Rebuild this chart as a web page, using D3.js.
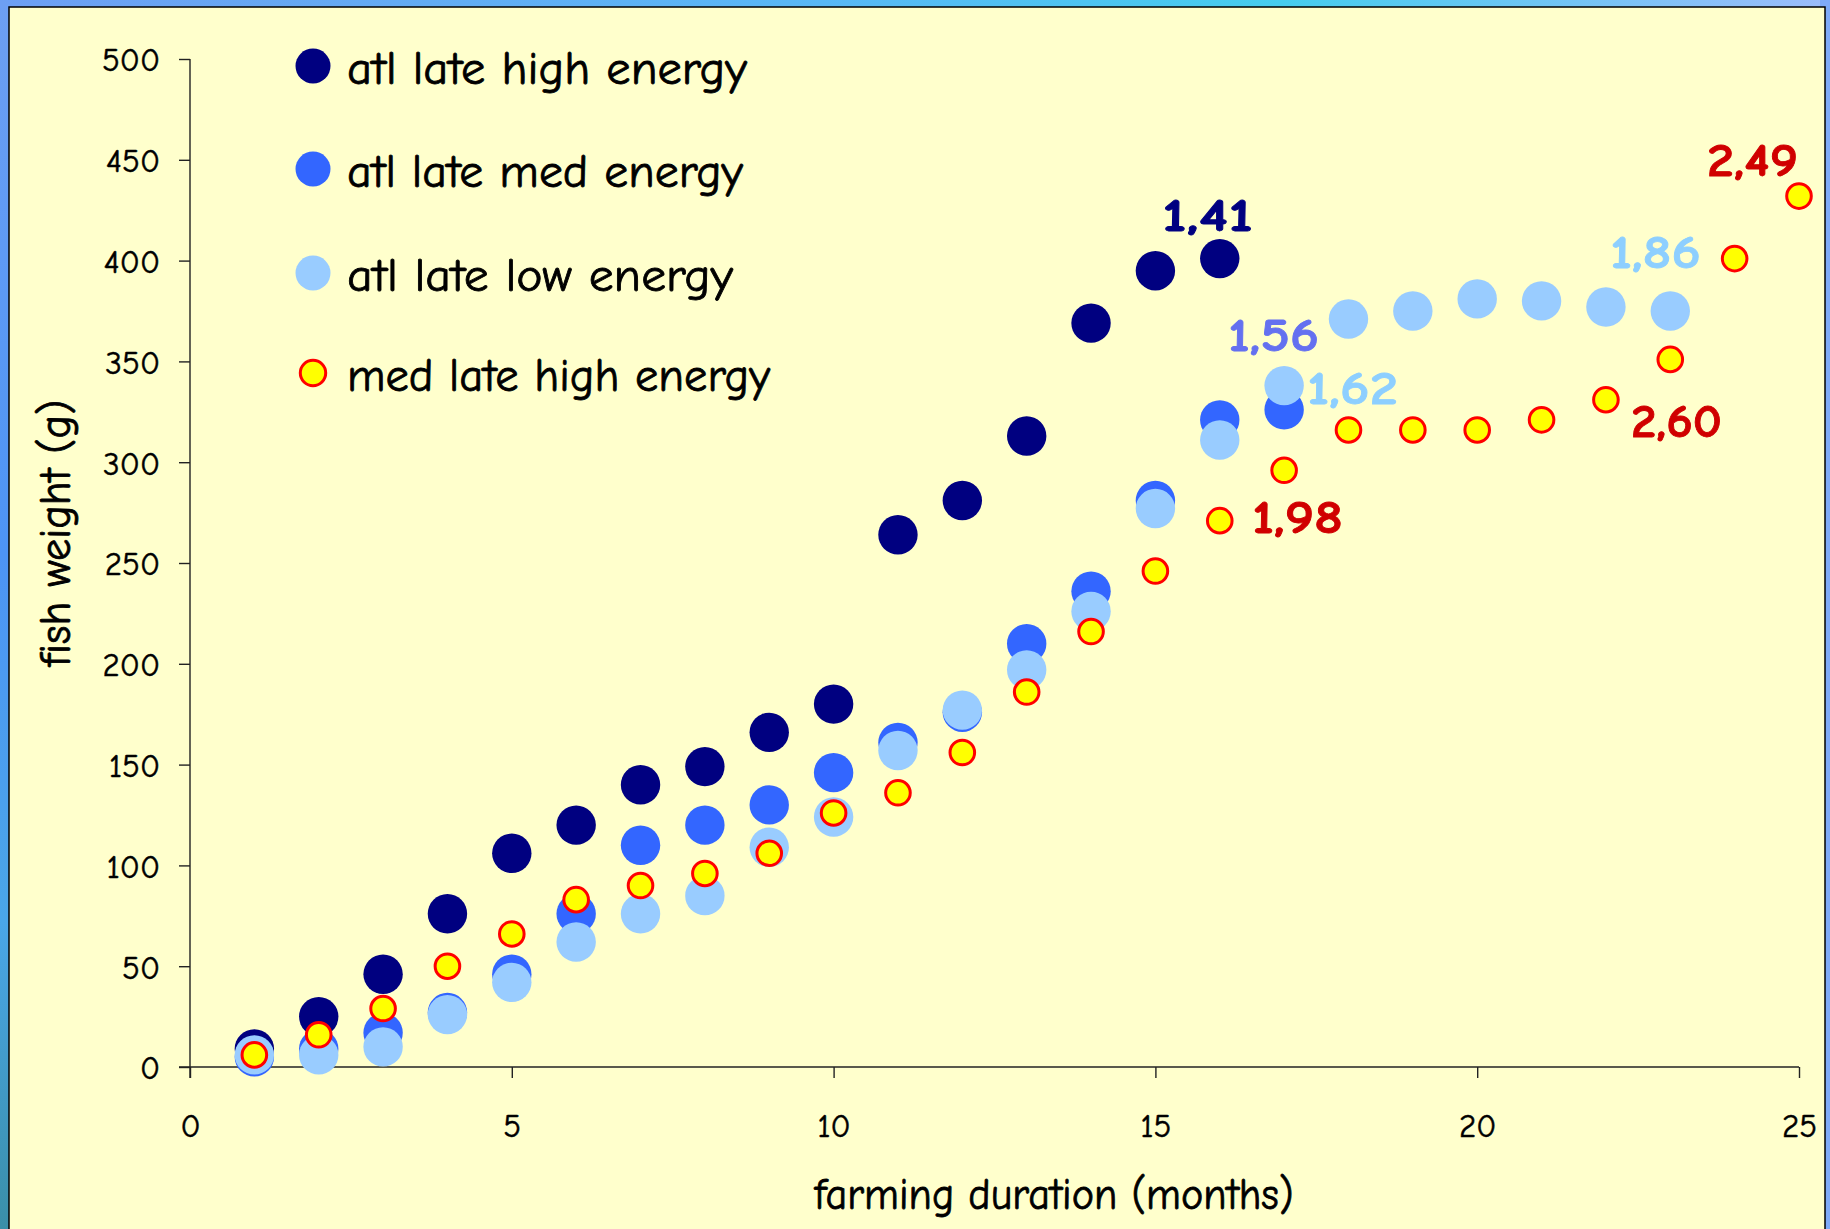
<!DOCTYPE html>
<html>
<head>
<meta charset="utf-8">
<script src="https://cdn.jsdelivr.net/npm/d3@7"></script>
<style>
  html, body { margin: 0; padding: 0; overflow: hidden; }
  body { width: 1830px; height: 1229px; }
  text { font-family: 'Comic Sans MS', 'Comic Neue', Lato, sans-serif; }
</style>
</head>
<body>
<svg id="chart" width="1830" height="1229"></svg>
<script>
// ---------- data ----------
const seriesNames = ["atl late high energy", "atl late med energy", "atl late low energy", "med late high energy"];
const monthsAtlHigh = [1,2,3,4,5,6,7,8,9,10,11,12,13,14,15,16];
const atlHigh = [9, 25, 46, 76, 106, 120, 140, 149, 166, 180, 264, 281, 313, 369, 395, 401];
const monthsAtlMed = [1,2,3,4,5,6,7,8,9,10,11,12,13,14,15,16,17];
const atlMed = [5, 9, 17, 27, 46, 76, 110, 120, 130, 146, 161, 176, 210, 236, 281, 321, 326];
const monthsAtlLow = [1,2,3,4,5,6,7,8,9,10,11,12,13,14,15,16,17,18,19,20,21,22,23];
const atlLow = [6, 6, 10, 26, 42, 62, 76, 85, 109, 124, 157, 177, 197, 226, 277, 311, 338, 371, 375, 381, 380, 377, 375];
const monthsMedHigh = [1,2,3,4,5,6,7,8,9,10,11,12,13,14,15,16,17,18,19,20,21,22,23,24,25];
const medHigh = [6, 16, 29, 50, 66, 83, 90, 96, 106, 126, 136, 156, 186, 216, 246, 271, 296, 316, 316, 316, 321, 331, 351, 401, 432];
const xTicks = [0, 5, 10, 15, 20, 25];
const yTicks = [0, 50, 100, 150, 200, 250, 300, 350, 400, 450, 500];
const xTitle = "farming duration (months)";
const yTitle = "fish weight (g)";
const annotationTexts = ["1,41", "1,56", "1,62", "1,98", "1,86", "2,60", "2,49"];

// ---------- styles / layout ----------
const seriesFill = ["#000080", "#3366FF", "#99CCFF", "#FFFF00"];
const seriesStroke = [null, null, null, "#FF0000"];
const annotationColors = ["#000080", "#6470F0", "#8DCFFF", "#D00000", "#8DCFFF", "#D00000", "#D00000"];
const annotationPos = [[1162, 231], [1228, 351], [1307, 404], [1252, 533], [1610, 268], [1631, 437], [1707, 176]];

const svg = d3.select("#chart");
const defs = svg.append("defs");
const gTop = defs.append("linearGradient").attr("id", "bgTop").attr("x1", 0).attr("x2", 1).attr("y1", 0).attr("y2", 0);
gTop.append("stop").attr("offset", "0").attr("stop-color", "#6d9ff3");
gTop.append("stop").attr("offset", "0.45").attr("stop-color", "#58b8f5");
gTop.append("stop").attr("offset", "0.7").attr("stop-color", "#45cdee");
gTop.append("stop").attr("offset", "1").attr("stop-color", "#9cbcfb");
const gLeft = defs.append("linearGradient").attr("id", "bgLeft").attr("x1", 0).attr("x2", 0).attr("y1", 0).attr("y2", 1);
gLeft.append("stop").attr("offset", "0").attr("stop-color", "#6d9ff3");
gLeft.append("stop").attr("offset", "0.45").attr("stop-color", "#4d94f5");
gLeft.append("stop").attr("offset", "0.75").attr("stop-color", "#4aa6e8");
gLeft.append("stop").attr("offset", "1").attr("stop-color", "#3a8fa8");

svg.append("rect").attr("width", 1830).attr("height", 1229).attr("fill", "url(#bgLeft)");
svg.append("rect").attr("width", 1830).attr("height", 8).attr("fill", "url(#bgTop)");
svg.append("rect").attr("x", 1820).attr("width", 10).attr("height", 1229).attr("fill", "#7eaaf8");
// frame
svg.append("rect").attr("x", 9).attr("y", 7).attr("width", 1816).attr("height", 1240)
  .attr("fill", "#FFFFCC").attr("stroke", "#000").attr("stroke-width", 1.5);

const x = d3.scaleLinear().domain([0, 25]).range([190, 1799]);
const y = d3.scaleLinear().domain([0, 500]).range([1067, 59]);

// axes
const yAxis = d3.axisLeft(y).tickValues(yTicks).tickSize(11).tickSizeOuter(0).tickPadding(30);
const xAxis = d3.axisBottom(x).tickValues(xTicks).tickSize(11).tickSizeOuter(0);

const gy = svg.append("g").attr("transform", "translate(190,0)").call(yAxis);
gy.select(".domain").attr("stroke", "#222").attr("stroke-width", 1.4).attr("d", "M0,59V1078");
gy.selectAll(".tick line").attr("stroke", "#222").attr("stroke-width", 1.4);
gy.selectAll(".tick text").attr("fill", "#000").attr("font-size", 33)
  .attr("stroke", "#000").attr("stroke-width", 0.5)
  .attr("font-family", "'Comic Sans MS', 'Comic Neue', Lato, sans-serif").attr("dy", "0.36em").attr("x", -30);

const gx = svg.append("g").attr("transform", "translate(0,1067)").call(xAxis);
gx.select(".domain").attr("stroke", "#222").attr("stroke-width", 1.4).attr("d", "M179,0H1799");
gx.selectAll(".tick line").attr("stroke", "#222").attr("stroke-width", 1.4);
gx.selectAll(".tick text").attr("fill", "#000").attr("font-size", 33)
  .attr("stroke", "#000").attr("stroke-width", 0.5)
  .attr("font-family", "'Comic Sans MS', 'Comic Neue', Lato, sans-serif").attr("dy", null).attr("y", 70);

// axis titles
svg.append("text").attr("x", 1054).attr("y", 1209).attr("text-anchor", "middle")
  .attr("font-size", 45).attr("fill", "#000").attr("stroke", "#000").attr("stroke-width", 0.8)
  .attr("textLength", 479).attr("lengthAdjust", "spacingAndGlyphs").text(xTitle);
svg.append("text").attr("transform", "translate(70,533) rotate(-90)").attr("text-anchor", "middle")
  .attr("font-size", 45).attr("fill", "#000").attr("stroke", "#000").attr("stroke-width", 0.8)
  .attr("textLength", 267).attr("lengthAdjust", "spacingAndGlyphs").text(yTitle);

// points
const seriesData = [
  monthsAtlHigh.map((m, i) => ({m, v: atlHigh[i]})),
  monthsAtlMed.map((m, i) => ({m, v: atlMed[i]})),
  monthsAtlLow.map((m, i) => ({m, v: atlLow[i]})),
  monthsMedHigh.map((m, i) => ({m, v: medHigh[i]}))
];
seriesData.forEach((data, si) => {
  const g = svg.append("g");
  g.selectAll("circle").data(data).join("circle")
    .attr("cx", d => x(d.m)).attr("cy", d => y(d.v))
    .attr("r", si === 3 ? 12.3 : 19.7)
    .attr("fill", seriesFill[si])
    .attr("stroke", seriesStroke[si] || "none")
    .attr("stroke-width", si === 3 ? 3 : 0);
});

// legend
const legendY = [66, 169, 273, 373];
const legendWidths = [400, 396, 386, 423];
seriesNames.forEach((name, i) => {
  svg.append("circle").attr("cx", 313).attr("cy", legendY[i])
    .attr("r", i === 3 ? 12.7 : 17.5)
    .attr("fill", seriesFill[i])
    .attr("stroke", seriesStroke[i] || "none")
    .attr("stroke-width", i === 3 ? 3 : 0);
  svg.append("text").attr("x", 347).attr("y", legendY[i] + 18)
    .attr("font-size", 47).attr("fill", "#000").attr("stroke", "#000").attr("stroke-width", 0.8)
    .attr("textLength", legendWidths[i]).attr("lengthAdjust", "spacingAndGlyphs")
    .text(name);
});

// annotations
annotationTexts.forEach((t, i) => {
  svg.append("text").attr("x", annotationPos[i][0]).attr("y", annotationPos[i][1])
    .attr("font-size", 46).attr("font-weight", "bold").attr("fill", annotationColors[i])
    .attr("stroke", annotationColors[i]).attr("stroke-width", 0.8)
    .attr("textLength", 91).attr("lengthAdjust", "spacingAndGlyphs")
    .text(t);
});
</script>
</body>
</html>
